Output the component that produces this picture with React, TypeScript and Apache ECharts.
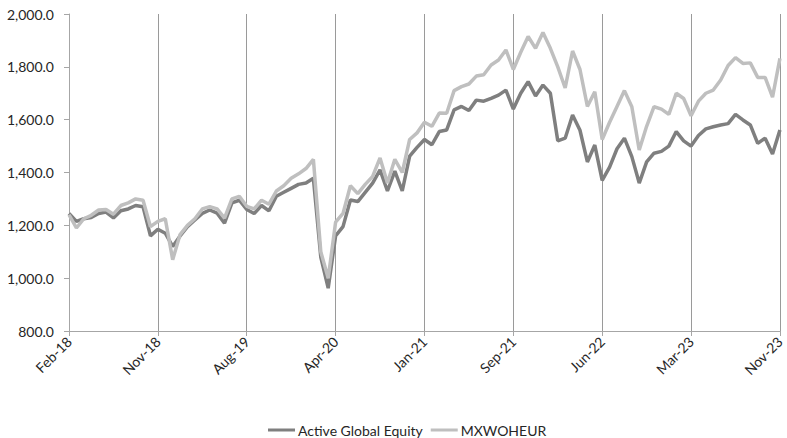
import React, { useEffect, useRef } from "react";
import * as echarts from "echarts";

const tickLabels = ["Feb-18", "Nov-18", "Aug-19", "Apr-20", "Jan-21", "Sep-21", "Jun-22", "Mar-23", "Nov-23"];
const stepsPerTick = 12;

const activeGlobalEquity = [
  1245, 1215, 1225, 1230, 1245, 1250, 1228, 1255, 1262, 1275, 1270, 1160, 1185,
  1170, 1120, 1160, 1195, 1220, 1245, 1258, 1246, 1208, 1285, 1295, 1260,
  1245, 1275, 1255, 1310, 1325, 1340, 1355, 1360, 1378, 1080, 962, 1160,
  1195, 1296, 1290, 1325, 1360, 1410, 1330, 1405, 1330, 1462, 1495, 1525,
  1505, 1555, 1561, 1637, 1650, 1635, 1674, 1670, 1681, 1693, 1712, 1640,
  1700, 1744, 1690, 1731, 1700, 1520, 1530, 1618, 1560, 1440, 1504, 1370,
  1420, 1490, 1530, 1460, 1360, 1440, 1473, 1480, 1500, 1555, 1520, 1500,
  1540, 1565, 1573, 1580, 1585, 1620, 1599, 1580, 1510, 1530, 1470, 1561,
];

const mxwoheur = [
  1240, 1190, 1225, 1238, 1258, 1260, 1242, 1275, 1285, 1300, 1295, 1195, 1215,
  1225, 1070, 1165, 1200, 1225, 1262, 1271, 1262, 1227, 1300, 1310, 1272,
  1262, 1295, 1280, 1330, 1350, 1378, 1395, 1415, 1450, 1100, 1000, 1212,
  1245, 1350, 1320, 1355, 1385, 1455, 1360, 1450, 1400, 1525, 1550, 1590,
  1575, 1625, 1624, 1710, 1725, 1735, 1765, 1770, 1807, 1826, 1864, 1790,
  1855, 1915, 1870, 1930, 1870, 1800, 1720, 1860, 1790, 1650, 1706, 1525,
  1590, 1650, 1710, 1649, 1485, 1575, 1649, 1640, 1620, 1700, 1680, 1615,
  1670, 1700, 1712, 1750, 1805, 1835, 1813, 1815, 1760, 1760, 1685, 1832,
];

const categories = activeGlobalEquity.map((_, i) =>
  i % stepsPerTick === 0 ? tickLabels[i / stepsPerTick] : "p" + i
);

const FONT = "Lato";

export default function App() {
  const ref = useRef<HTMLDivElement>(null);
  useEffect(() => {
    if (!ref.current) return;
    const chart = echarts.init(ref.current, null, { renderer: "svg" });
    chart.setOption({
      animation: false,
      grid: { left: 69, right: 4, top: 14, bottom: 107, containLabel: false },
      legend: {
        left: 268,
        top: 423,
        padding: 0,
        icon: "rect",
        itemWidth: 27,
        itemHeight: 3,
        itemGap: 8,
        textStyle: { fontFamily: FONT, fontSize: 14, color: "#262626", padding: [0, 0, 0, -2] },
        data: ["Active Global Equity", "MXWOHEUR"],
      },
      xAxis: {
        type: "category",
        data: categories,
        boundaryGap: false,
        axisLine: { lineStyle: { color: "#a6a6a6", width: 1 } },
        axisTick: { show: true, interval: stepsPerTick - 1, length: 5, lineStyle: { color: "#a6a6a6" } },
        axisLabel: {
          interval: stepsPerTick - 1,
          rotate: 45,
          margin: 8,
          fontFamily: FONT,
          fontSize: 14,
          color: "#262626",
        },
        splitLine: { show: true, interval: stepsPerTick - 1, lineStyle: { color: "#9a9a9a", width: 1 } },
      },
      yAxis: {
        type: "value",
        min: 800,
        max: 2000,
        interval: 200,
        axisLine: { show: true, lineStyle: { color: "#a6a6a6", width: 1 } },
        axisTick: { show: true, length: 5, lineStyle: { color: "#a6a6a6" } },
        splitLine: { show: false },
        axisLabel: {
          margin: 15,
          fontFamily: FONT,
          fontSize: 14,
          color: "#262626",
          formatter: (v: number) =>
            v.toLocaleString("en-US", { minimumFractionDigits: 1, maximumFractionDigits: 1 }),
        },
      },
      series: [
        {
          name: "Active Global Equity",
          type: "line",
          data: activeGlobalEquity,
          showSymbol: false,
          symbol: "none",
          lineStyle: { color: "#7f7f7f", width: 3.5 },
          itemStyle: { color: "#7f7f7f" },
        },
        {
          name: "MXWOHEUR",
          type: "line",
          data: mxwoheur,
          showSymbol: false,
          symbol: "none",
          lineStyle: { color: "#bfbfbf", width: 3.5 },
          itemStyle: { color: "#bfbfbf" },
        },
      ],
    });
    return () => chart.dispose();
  }, []);
  return <div ref={ref} style={{ width: 787, height: 438, position: "absolute", left: 0, top: 0 }} />;
}
